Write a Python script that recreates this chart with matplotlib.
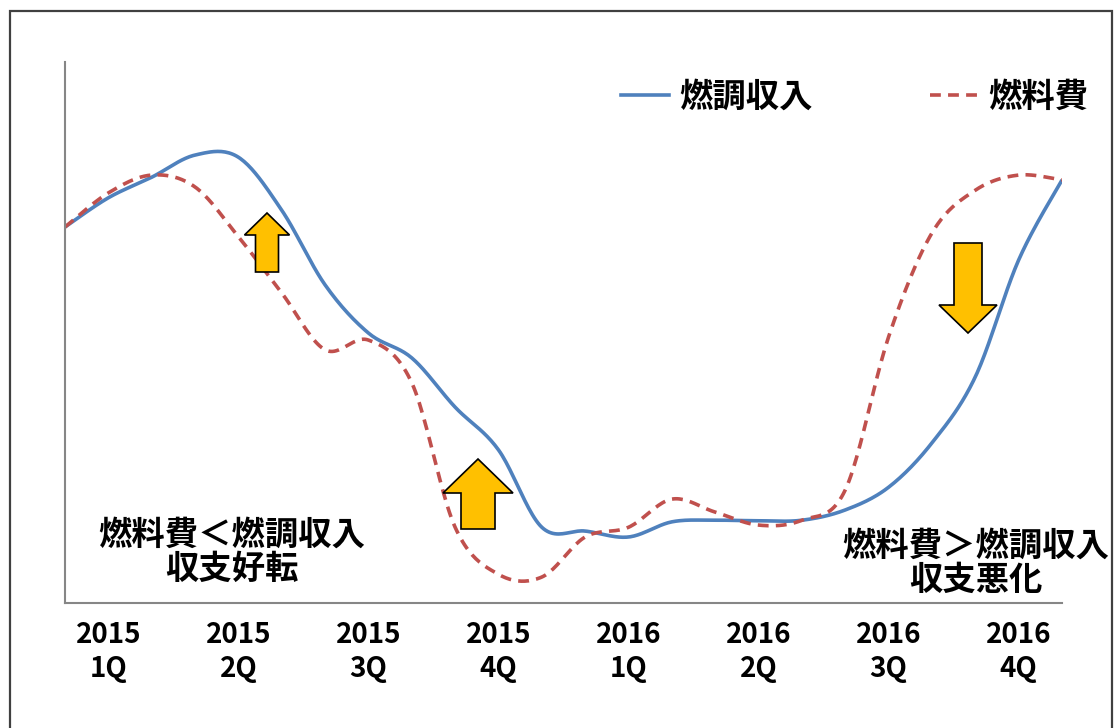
import numpy as np
import matplotlib
matplotlib.use("Agg")
import matplotlib.pyplot as plt
from matplotlib.patches import Polygon, Rectangle
from matplotlib.lines import Line2D

plt.rcParams['font.family'] = ['Noto Sans CJK JP', 'DejaVu Sans']
plt.rcParams['font.weight'] = 'bold'

# monthly values, 2015/01 .. 2016/12 (index, no unit on the chart)
months = np.arange(24)
quarter_labels = ['2015\n1Q', '2015\n2Q', '2015\n3Q', '2015\n4Q',
                  '2016\n1Q', '2016\n2Q', '2016\n3Q', '2016\n4Q']
quarter_pos = [1, 4, 7, 10, 13, 16, 19, 22]

fuel_income = [69.5, 74.9, 78.7, 82.8, 82.4, 72.6, 58.8, 49.9, 45.3, 36.2, 28.3, 14.0,
               13.3, 12.2, 15.0, 15.3, 15.2, 15.3, 17.2, 21.4, 29.6, 41.8, 63.4, 78.2]
fuel_cost = [69.5, 75.8, 79.1, 76.9, 67.7, 57.3, 46.8, 48.6, 40.7, 14.0, 5.3, 4.8,
             12.2, 14.0, 19.2, 16.8, 14.4, 15.3, 20.9, 49.2, 68.4, 76.3, 79.1, 78.2]

BLUE = '#4F81BD'
RED = '#C0504D'
YELLOW = '#FFC000'
W, H = 1116, 728


def smooth(x, y, n=24):
    # excel-style smoothed line (bezier through the points)
    x = np.asarray(x, float)
    y = np.asarray(y, float)
    px = np.concatenate([[x[0]], x, [x[-1]]])
    py = np.concatenate([[y[0]], y, [y[-1]]])
    t = np.linspace(0, 1, n)[:, None]
    xs, ys = [], []
    for i in range(1, len(x)):
        p0 = np.array([px[i], py[i]])
        p3 = np.array([px[i + 1], py[i + 1]])
        c1 = p0 + (np.array([px[i + 1], py[i + 1]]) - np.array([px[i - 1], py[i - 1]])) / 6
        c2 = p3 - (np.array([px[i + 2], py[i + 2]]) - np.array([px[i], py[i]])) / 6
        b = ((1 - t) ** 3) * p0 + 3 * ((1 - t) ** 2) * t * c1 + 3 * (1 - t) * t ** 2 * c2 + t ** 3 * p3
        xs.append(b[:, 0])
        ys.append(b[:, 1])
    return np.concatenate(xs), np.concatenate(ys)


def block_arrow(fig, cx, tip, head, tail, hw, sw):
    # pixel coords of the reference image -> figure fraction
    pts = [(cx, tip), (cx + hw, head), (cx + sw, head), (cx + sw, tail),
           (cx - sw, tail), (cx - sw, head), (cx - hw, head)]
    pts = [(px / W, 1 - py / H) for px, py in pts]
    fig.patches.append(Polygon(pts, closed=True, facecolor=YELLOW, edgecolor='black',
                               linewidth=1.2, transform=fig.transFigure, zorder=5))


fig = plt.figure(figsize=(11.16, 7.28), dpi=100)
ax = fig.add_axes([65 / W, 1 - 603 / H, (1062 - 65) / W, (603 - 62) / H])

xs, ys = smooth(months, fuel_income)
ax.plot(xs, ys, color=BLUE, lw=2.6, solid_capstyle='butt')
xs, ys = smooth(months, fuel_cost)
ax.plot(xs, ys, color=RED, lw=2.6, dashes=(3, 2))

ax.set_xlim(0, 23)
ax.set_ylim(0, 100)
ax.set_yticks([])
ax.set_xticks(quarter_pos)
ax.set_xticklabels(quarter_labels, fontsize=20, fontweight='bold', linespacing=1.25)
ax.tick_params(axis='x', length=0, pad=13)
for s in ['top', 'right']:
    ax.spines[s].set_visible(False)
for s in ['left', 'bottom']:
    ax.spines[s].set_color('#868686')
    ax.spines[s].set_linewidth(1.5)

handles = [Line2D([], [], color=BLUE, lw=2.6),
           Line2D([], [], color=RED, lw=2.6, dashes=(3, 2))]
ax.legend(handles, ['燃調収入', '燃料費'], loc='center left', ncol=2,
          bbox_to_anchor=((591 - 65) / (1062 - 65), (603 - 97) / (603 - 62)),
          frameon=False, handlelength=1.45, handletextpad=0.3,
          columnspacing=3.5, prop={'weight': 'bold', 'size': 24})

fig.text(232 / W, 1 - 552 / H, '燃料費＜燃調収入\n収支好転', ha='center', va='center',
         fontsize=24, fontweight='bold', linespacing=1.05, multialignment='center')
fig.text(976 / W, 1 - 563 / H, '燃料費＞燃調収入\n収支悪化', ha='center', va='center',
         fontsize=24, fontweight='bold', linespacing=1.05, multialignment='center')

block_arrow(fig, 267, 213, 235, 272, 22.5, 11.5)
block_arrow(fig, 478, 459, 493, 529, 35, 17)
block_arrow(fig, 968, 333, 305, 243, 29, 14)

# outer frame
fig.patches.append(Rectangle((10 / W, -0.05), (1112 - 10) / W, 1.05 - 11 / H,
                             fill=False, edgecolor='#404040', linewidth=1.6,
                             transform=fig.transFigure))

fig.savefig('out.png', dpi=100)
